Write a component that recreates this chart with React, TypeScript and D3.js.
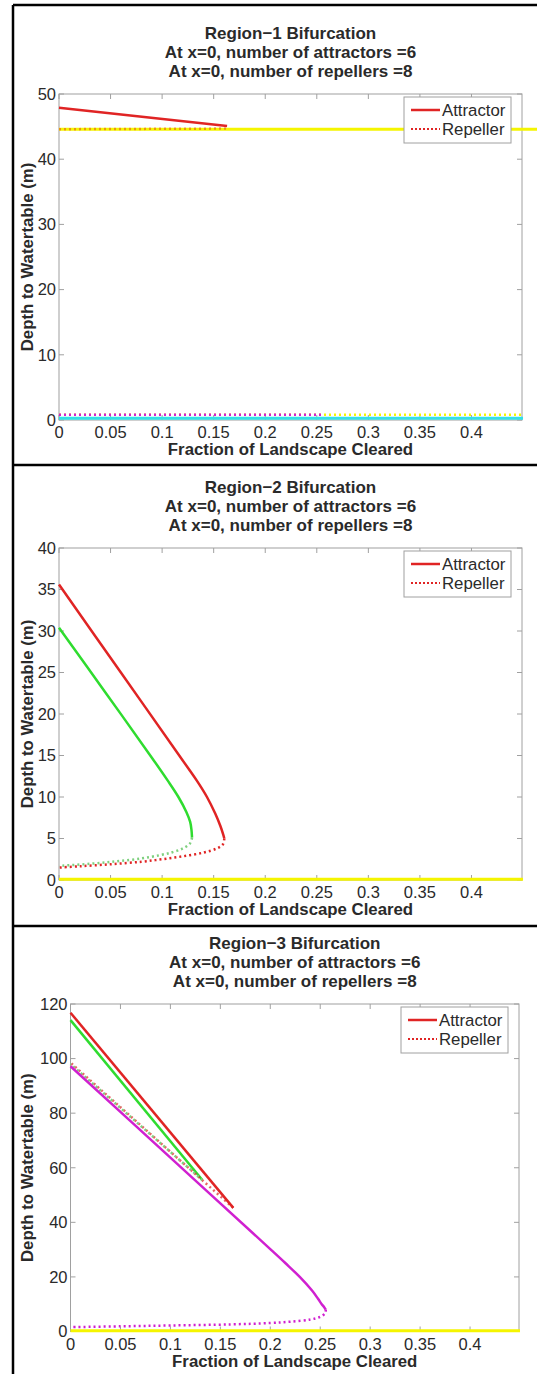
import React from "react";
import * as d3 from "d3";

type Pt = [number, number];

// Region 1 series
const r1RedAttractor: Pt[] = [[0, 47.9], [0.163, 45.1]];
const r1RedRepeller: Pt[] = [[0, 44.6], [0.163, 44.7]];
const r1YellowAttractor: Pt[] = [[0, 44.6], [0.47, 44.6]];
const r1YellowRepeller: Pt[] = [[0, 0.8], [0.45, 0.8]];
const r1MagentaRepeller: Pt[] = [[0, 0.8], [0.255, 0.8]];
const r1CyanAttractor: Pt[] = [[0, 0.25], [0.45, 0.25]];

// Region 2 series
const r2RedAttractor: Pt[] = [
  [0, 35.6], [0.06, 25.0], [0.12, 14.4], [0.1335, 12.0], [0.1435, 10.0], [0.1515, 8.0],
  [0.1565, 6.5], [0.1592, 5.5], [0.1603, 5.0],
];
const r2RedRepeller: Pt[] = [
  [0.1603, 5.0], [0.159, 4.3], [0.153, 3.8], [0.14, 3.3], [0.12, 2.85], [0.1, 2.5],
  [0.08, 2.2], [0.05, 1.9], [0.02, 1.65], [0, 1.5],
];
const r2GreenAttractor: Pt[] = [
  [0, 30.4], [0.045, 22.6], [0.0897, 14.8], [0.1053, 12.0], [0.1158, 10.0], [0.1235, 8.2],
  [0.1272, 7.0], [0.1285, 6.0], [0.129, 5.1],
];
const r2GreenRepeller: Pt[] = [
  [0.129, 5.1], [0.127, 4.4], [0.12, 3.8], [0.11, 3.35], [0.098, 3.0], [0.08, 2.6],
  [0.056, 2.25], [0.03, 1.95], [0, 1.7],
];
const r2YellowAttractor: Pt[] = [[0, 0.1], [0.45, 0.1]];

// Region 3 series
const r3RedAttractor: Pt[] = [[0, 116.8], [0.163, 45.3]];
const r3GreenAttractor: Pt[] = [[0, 114.1], [0.132, 55.5]];
const r3MagentaAttractor: Pt[] = [
  [0, 97.2], [0.1, 63.7], [0.2, 30.2], [0.2153, 25.0], [0.2295, 20.0], [0.2418, 15.0],
  [0.2478, 12.0], [0.2515, 10.0], [0.2538, 9.0], [0.2555, 8.0],
];
const r3MagentaRepeller: Pt[] = [
  [0.2555, 8.0], [0.2552, 6.8], [0.25, 5.4], [0.24, 4.4], [0.22, 3.6], [0.2, 3.1],
  [0.16, 2.6], [0.1, 2.2], [0.05, 1.9], [0, 1.6],
];
const r3RedRepeller: Pt[] = [[0.163, 45.3], [0, 98.5]];
const r3GreenRepeller: Pt[] = [[0.132, 55.5], [0, 98.0]];
const r3YellowAttractor: Pt[] = [[0, 0.3], [0.45, 0.3]];

// ticks and labels
const xTicks = [0, 0.05, 0.1, 0.15, 0.2, 0.25, 0.3, 0.35, 0.4];
const r1YTicks = [0, 10, 20, 30, 40, 50];
const r2YTicks = [0, 5, 10, 15, 20, 25, 30, 35, 40];
const r3YTicks = [0, 20, 40, 60, 80, 100, 120];
const subtitleLines = ["At x=0, number of attractors =6", "At x=0, number of repellers =8"];
const legendLabels = ["Attractor", "Repeller"];
const xLabel = "Fraction of Landscape Cleared";
const yLabel = "Depth to Watertable (m)";

const RED = "#e02424";
const GREEN = "#2fdc2f";
const GREEN_DOT = "#7fd07f";
const MAGENTA = "#d020d0";
const YELLOW = "#f5f500";
const CYAN = "#33e0e8";
const AXIS = "#a0a0a0";
const TEXT = "#2a2a2a";
const FONT = "'Liberation Sans', Arial, sans-serif";

type Series = { data: Pt[]; color: string; dotted?: boolean; width?: number; opacity?: number };

type PanelCfg = {
  title: string;
  top: number;
  bottom: number;
  left: number;
  right: number;
  yMax: number;
  yTicks: number[];
  series: Series[];
};

const panels: PanelCfg[] = [
  {
    title: "Region\u22121 Bifurcation",
    top: 94, bottom: 420, left: 59, right: 522, yMax: 50, yTicks: r1YTicks,
    series: [
      { data: r1RedAttractor, color: RED },
      { data: r1YellowAttractor, color: YELLOW, width: 3 },
      { data: r1RedRepeller, color: RED, dotted: true, opacity: 0.45 },
      { data: r1YellowRepeller, color: YELLOW, dotted: true },
      { data: r1MagentaRepeller, color: MAGENTA, dotted: true },
      { data: r1CyanAttractor, color: CYAN, width: 3 },
    ],
  },
  {
    title: "Region\u22122 Bifurcation",
    top: 548, bottom: 880, left: 59, right: 522, yMax: 40, yTicks: r2YTicks,
    series: [
      { data: r2RedAttractor, color: RED },
      { data: r2RedRepeller, color: RED, dotted: true },
      { data: r2GreenAttractor, color: GREEN },
      { data: r2GreenRepeller, color: GREEN_DOT, dotted: true },
      { data: r2YellowAttractor, color: YELLOW, width: 3 },
    ],
  },
  {
    title: "Region\u22123 Bifurcation",
    top: 1004, bottom: 1331.5, left: 70.5, right: 519, yMax: 120, yTicks: r3YTicks,
    series: [
      { data: r3RedAttractor, color: RED },
      { data: r3GreenAttractor, color: GREEN },
      { data: r3RedRepeller, color: RED, dotted: true, opacity: 0.7 },
      { data: r3GreenRepeller, color: GREEN_DOT, dotted: true },
      { data: r3MagentaAttractor, color: MAGENTA },
      { data: r3MagentaRepeller, color: MAGENTA, dotted: true },
      { data: r3YellowAttractor, color: YELLOW, width: 3 },
    ],
  },
];

const fmt = (v: number) => String(+v.toFixed(2));

function Panel({ cfg }: { cfg: PanelCfg }) {
  const x = d3.scaleLinear().domain([0, 0.449]).range([cfg.left, cfg.right]);
  const y = d3.scaleLinear().domain([0, cfg.yMax]).range([cfg.bottom, cfg.top]);
  const line = d3
    .line<Pt>()
    .x((d) => x(d[0]))
    .y((d) => y(d[1]))
    .curve(d3.curveCatmullRom.alpha(0.5));
  const cx = (cfg.left + cfg.right) / 2;
  const cy = (cfg.top + cfg.bottom) / 2;
  const tick = 5;

  // legend box
  const lw = 107, lh = 46;
  const lx = cfg.right - 11 - lw;
  const ly = cfg.top + 3;

  return (
    <g>
      {/* titles */}
      <g fontFamily={FONT} fontWeight="bold" fontSize={17} fill={TEXT} textAnchor="middle">
        <text x={cx} y={cfg.top - 55}>{cfg.title}</text>
        <text x={cx} y={cfg.top - 36}>{subtitleLines[0]}</text>
        <text x={cx} y={cfg.top - 17}>{subtitleLines[1]}</text>
      </g>

      {/* axes box and ticks */}
      <rect x={cfg.left} y={cfg.top} width={cfg.right - cfg.left} height={cfg.bottom - cfg.top}
        fill="white" stroke={AXIS} strokeWidth={1} />
      {xTicks.map((t) => (
        <g key={"x" + t} stroke={AXIS}>
          <line x1={x(t)} x2={x(t)} y1={cfg.bottom} y2={cfg.bottom - tick} />
          <line x1={x(t)} x2={x(t)} y1={cfg.top} y2={cfg.top + tick} />
        </g>
      ))}
      {cfg.yTicks.map((t) => (
        <g key={"y" + t} stroke={AXIS}>
          <line x1={cfg.left} x2={cfg.left + tick} y1={y(t)} y2={y(t)} />
          <line x1={cfg.right} x2={cfg.right - tick} y1={y(t)} y2={y(t)} />
        </g>
      ))}

      {/* series */}
      {cfg.series.map((s, i) => (
        <path key={i} d={line(s.data) || ""} fill="none" stroke={s.color}
          strokeWidth={s.width ?? 2.5} strokeOpacity={s.opacity ?? 1}
          strokeDasharray={s.dotted ? "2 3" : undefined} />
      ))}

      {/* tick labels */}
      <g fontFamily={FONT} fontSize={16.5} fill={TEXT}>
        {xTicks.map((t) => (
          <text key={"xl" + t} x={x(t)} y={cfg.bottom + 18} textAnchor="middle">{fmt(t)}</text>
        ))}
        {cfg.yTicks.map((t) => (
          <text key={"yl" + t} x={cfg.left - 3} y={y(t)} dy="0.35em" textAnchor="end">{t}</text>
        ))}
      </g>

      {/* axis labels */}
      <g fontFamily={FONT} fontWeight="bold" fontSize={16.8} fill={TEXT}>
        <text x={cx} y={cfg.bottom + 35} textAnchor="middle">{xLabel}</text>
        <text transform={`translate(33,${cy}) rotate(-90)`} textAnchor="middle">{yLabel}</text>
      </g>

      {/* legend */}
      <rect x={lx} y={ly} width={lw} height={lh} fill="white" stroke={AXIS} strokeWidth={1} />
      <line x1={lx + 7} x2={lx + 36} y1={ly + 13} y2={ly + 13} stroke={RED} strokeWidth={2.5} />
      <line x1={lx + 7} x2={lx + 36} y1={ly + 32} y2={ly + 32} stroke={RED} strokeWidth={2}
        strokeDasharray="2 2" />
      <g fontFamily={FONT} fontSize={16.8} fill={TEXT}>
        <text x={lx + 38} y={ly + 13} dy="0.35em">{legendLabels[0]}</text>
        <text x={lx + 38} y={ly + 32} dy="0.35em">{legendLabels[1]}</text>
      </g>
    </g>
  );
}

export default function App() {
  const W = 537, H = 1374;
  return (
    <svg width={W} height={H} style={{ position: "absolute", left: 0, top: 0, background: "white" }}>
      <rect x={0} y={0} width={W} height={H} fill="white" />
      {panels.map((p, i) => <Panel key={i} cfg={p} />)}
      {/* outer frame and separators */}
      <g stroke="black" strokeWidth={2.5}>
        <line x1={13} x2={W} y1={5} y2={5} />
        <line x1={13} x2={13} y1={5} y2={H} />
        <line x1={13} x2={W} y1={465} y2={465} />
        <line x1={13} x2={W} y1={926} y2={926} />
      </g>
    </svg>
  );
}
